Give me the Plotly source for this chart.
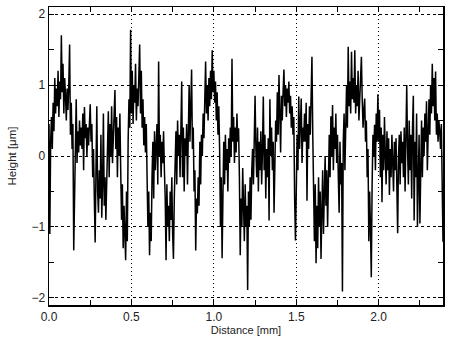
import plotly.graph_objects as go

# Sample spacing along the profile (mm)
step_mm = 0.005

# Height profile (µm), 10 samples per 0.05 mm
height_um = [
    0.45, -1.10, 0.20, 0.55, 0.10, 0.75, 0.35, 1.10, 0.60, 0.95,
    0.70, 1.20, 0.55, 1.05, 0.80, 1.70, 0.90, 1.30, 0.60, 1.10,
    0.85, 0.50, 0.95, 0.65, 1.00, 1.57, 0.30, 0.75, 0.10, 0.45,
    -1.33, -0.40, 0.20, 0.80, -0.10, 0.35, 0.05, 0.50, 0.15, 0.40,
    0.10, 0.60, -0.20, 0.69, 0.25, 0.45, 0.00, 0.40, 0.15, 0.55,
    0.73, 0.20, 0.45, -0.30, 0.10, -0.60, -1.22, -0.20, 0.70, -0.50,
    -0.80, -0.20, -0.60, 0.30, -0.87, -0.40, 0.60, -0.70, -0.30, -0.90,
    -0.50, 0.20, 0.63, -0.30, 0.45, 0.00, 0.70, -0.10, 0.35, 0.50,
    0.93, 0.10, 0.55, -0.30, 0.40, 0.00, 0.60, -0.20, -0.90, -0.40,
    -1.30, -0.70, -1.10, -1.47, -0.50, -1.20, 0.20, 0.80, 0.40, 1.78,
    0.60, 1.20, 0.45, 1.00, 0.75, 1.30, 0.50, 0.95, 0.70, 1.10,
    1.57, 0.60, 1.20, 0.40, 0.80, 0.15, 0.55, 0.05, 0.45, -0.30,
    -1.00, -0.50, -1.40, -0.80, -1.20, -0.30, 0.20, -0.60, 0.35, -0.20,
    0.10, 0.45, -0.40, 1.33, 0.00, 0.30, -0.30, 0.20, -0.10, 0.35,
    -0.20, -0.60, -1.47, -0.40, -1.00, -0.70, -1.20, -0.50, -0.90, -0.30,
    -1.10, -1.45, -0.60, -0.20, 0.35, -0.40, 0.50, 0.00, 0.30, -0.30,
    0.20, 1.05, -0.30, 0.40, -0.50, 0.25, 0.00, 0.45, -0.40, 0.30,
    1.00, 0.20, 0.60, 1.22, 0.10, 0.40, -0.50, -0.20, -1.33, -0.60,
    -0.81, -0.30, -0.70, 0.20, -0.40, 0.30, 0.00, 0.60, 0.25, 0.90,
    1.33, 0.60, 1.00, 0.50, 1.10, 0.70, 1.20, 0.80, 1.49, 0.90,
    1.20, 0.75, 1.05, 0.50, 0.90, 0.30, 0.70, 0.10, -1.00, -0.30,
    -1.44, -0.60, 0.20, -0.40, 0.30, -0.20, 0.10, -0.50, 0.25, -0.10,
    0.40, 0.00, 1.37, 0.20, 0.55, -0.10, 0.40, 0.05, 0.60, 0.20,
    0.39, -0.30, -1.40, -0.60, -1.00, -0.17, -0.80, -1.20, -0.40, -1.00,
    -0.70, -1.89, -0.50, -1.00, -0.30, -0.90, -0.20, 0.10, -0.40, 0.30,
    0.85, 0.10, -0.30, 0.40, -0.50, 0.20, -0.20, 0.35, -0.40, 0.10,
    0.84, -0.20, 0.30, -0.60, 0.10, -0.30, 0.25, -0.91, 0.80, 0.00,
    0.40, -0.20, 0.20, -0.80, -0.10, 0.50, 0.20, 0.90, 0.30, 1.14,
    0.60, 0.05, 0.85, 0.50, 0.90, 1.22, 0.70, 1.00, 0.55, 0.95,
    0.75, 1.05, 0.60, 0.85, 0.40, 0.70, 0.30, 0.55, -0.60, -1.19,
    -0.50, 0.30, -0.20, 0.84, 0.10, 0.50, 0.81, -0.10, 0.40, 0.20,
    0.60, 0.20, 0.75, -0.63, 0.45, 0.10, 0.70, 0.30, 0.80, 1.40,
    0.30, -0.60, -1.20, -0.40, -1.51, -0.70, -1.30, -0.30, -1.00, -0.50,
    -1.45, -0.80, -0.20, -1.10, -0.50, 0.00, -0.70, -0.20, -1.00, -0.10,
    0.30, -0.30, 0.56, 0.00, 0.72, -0.20, 0.40, 0.10, 0.60, -0.10,
    0.30, -0.30, -0.80, 0.20, -0.40, -0.10, -1.91, 0.20, 0.60, -0.20,
    0.50, 1.00, 0.40, 1.54, 0.70, 1.05, 0.60, 1.47, 0.80, 1.10,
    0.75, 1.49, 0.60, 1.00, 0.70, 1.20, 0.50, 0.90, 1.10, 1.40,
    0.80, 0.40, 0.65, 0.81, 0.20, 0.50, -0.30, 0.10, -1.20, -0.50,
    -1.00, -1.71, -0.40, 0.30, 0.00, 0.44, -0.20, 0.60, 0.20, 0.87,
    0.20, 0.65, -0.30, 0.40, -0.65, 0.30, -0.20, 0.55, 0.00, -0.40,
    0.35, -0.20, 0.25, -0.55, 0.10, -0.30, 0.30, -0.10, -0.50, 0.20,
    -0.20, 0.25, -0.60, -1.09, 0.00, 0.30, -0.40, 0.35, -0.10, 0.20,
    -0.30, 0.40, -0.50, 0.60, 1.00, 0.10, -0.40, 0.50, -0.20, 0.30,
    -0.60, 0.40, 0.85, -0.91, 0.20, -0.30, 0.60, -1.00, -0.20, 0.30,
    -0.95, 0.10, 0.50, -0.30, 0.40, 0.00, 0.60, 0.20, 0.77, -0.20,
    0.40, 0.80, 0.30, 1.00, 0.60, 1.30, 0.70, 1.10, 0.50, 1.19,
    0.30, 0.60, 0.20, 0.50, 0.35, 0.10, 0.45, -0.30, -1.21, -0.50,
]
distance_mm = [i * step_mm for i in range(len(height_um))]

x_tick_vals = [0.0, 0.5, 1.0, 1.5, 2.0]
x_tick_text = ["0.0", "0.5", "1.0", "1.5", "2.0"]
y_tick_vals = [-2, -1, 0, 1, 2]
y_tick_text = ["\u22122", "\u22121", "0", "1", "2"]

fig = go.Figure()
fig.add_trace(go.Scatter(
    x=distance_mm, y=height_um, mode="lines",
    line=dict(color="black", width=1.5),
    hoverinfo="skip", showlegend=False,
))

font_family = "Liberation Sans, Arial, sans-serif"
common_axis = dict(
    showline=True, linecolor="black", linewidth=1.5, mirror="allticks",
    ticks="inside", ticklen=5, tickwidth=1, tickcolor="black",
    showgrid=True, gridcolor="black", gridwidth=1,
    zeroline=False,
    tickfont=dict(family=font_family, size=12, color="#222"),
)

fig.update_layout(
    width=450, height=338,
    margin=dict(l=49, r=6, t=5, b=33),
    paper_bgcolor="white", plot_bgcolor="white",
    font=dict(family=font_family, color="#222"),
    xaxis=dict(
        common_axis, range=[0, 2.39],
        tickmode="array", tickvals=x_tick_vals, ticktext=x_tick_text,
        griddash="1px,3px",
        minor=dict(ticks="inside", ticklen=5, tickcolor="black",
                   tickvals=[0.25, 0.75, 1.25, 1.75, 2.25], showgrid=False),
        title=dict(text="Distance [mm]", font=dict(size=11, family=font_family), standoff=0),
    ),
    yaxis=dict(
        common_axis, range=[-2.1, 2.1],
        tickmode="array", tickvals=y_tick_vals, ticktext=y_tick_text,
        griddash="3px,3px",
        minor=dict(ticks="inside", ticklen=5, tickcolor="black",
                   tickvals=[-1.5, -0.5, 0.5, 1.5], showgrid=False),
        title=dict(text="Height [\u03bcm]", font=dict(size=11.5, family=font_family), standoff=12),
    ),
)

fig.write_html(
    "out.html",
    config={"displayModeBar": False, "staticPlot": True},
    post_script="document.body.style.margin='0';document.body.style.overflow='hidden';",
)
